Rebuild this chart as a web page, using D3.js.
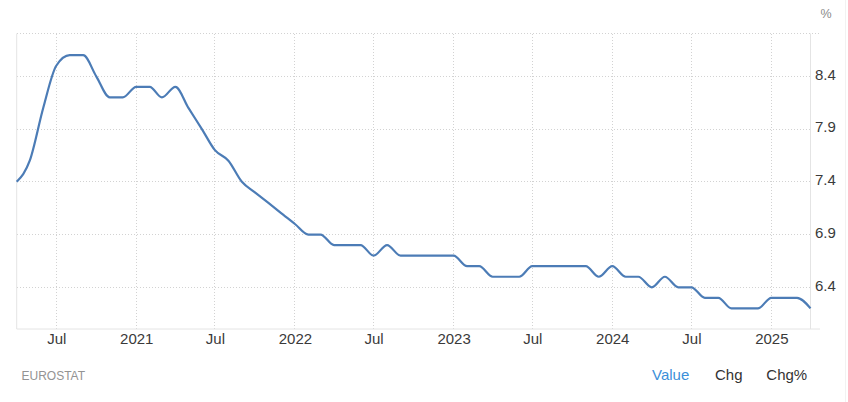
<!DOCTYPE html>
<html><head><meta charset="utf-8">
<script src="https://cdn.jsdelivr.net/npm/d3@7/dist/d3.min.js"></script>
<style>
html,body{margin:0;padding:0;background:#fff}
svg{display:block}
text{font-family:"Liberation Sans",Arial,sans-serif}
</style></head><body><svg id="c" width="848" height="402"></svg>
<script>
const startYear = 2020, startMonth = 3;
const values = [7.4,7.6,8.1,8.5,8.6,8.6,8.4,8.2,8.2,
  8.3,8.3,8.2,8.3,8.1,7.9,7.7,7.6,7.4,7.3,7.2,7.1,
  7.0,6.9,6.9,6.8,6.8,6.8,6.7,6.8,6.7,6.7,6.7,6.7,
  6.7,6.6,6.6,6.5,6.5,6.5,6.6,6.6,6.6,6.6,6.6,6.5,
  6.6,6.5,6.5,6.4,6.5,6.4,6.4,6.3,6.3,6.2,6.2,6.2,
  6.3,6.3,6.3,6.2];
const yTicks = [6.4,6.9,7.4,7.9,8.4];
const xTickDates = ["2020-07-01","2021-01-01","2021-07-01","2022-01-01","2022-07-01","2023-01-01","2023-07-01","2024-01-01","2024-07-01","2025-01-01"];
const xTickLabels = ["Jul","2021","Jul","2022","Jul","2023","Jul","2024","Jul","2025"];
const sourceLabel = "EUROSTAT";
const unitLabel = "%";
const tabs = ["Value","Chg","Chg%"];

const L=16.7,R=810.5,T=33.5,B=329;
const svg=d3.select("#c");
const dates=values.map((v,i)=>new Date(Date.UTC(startYear,startMonth+i,1)));
const x=d3.scaleUtc().domain([dates[0],dates[dates.length-1]]).range([L,R]);
const y=d3.scaleLinear().domain([6.4,8.4]).range([287.3,76.3]);
const xT=xTickDates.map(d=>new Date(d+"T00:00:00Z"));

const grid={stroke:"#d2d2d2","stroke-width":1,"stroke-dasharray":"1 2","shape-rendering":"crispEdges"};
const applyGrid=s=>{Object.entries(grid).forEach(([k,v])=>s.attr(k,v));return s;};
applyGrid(svg.append("g").selectAll("line").data(xT).join("line")
  .attr("x1",d=>x(d)).attr("x2",d=>x(d)).attr("y1",T).attr("y2",B));
applyGrid(svg.append("g").selectAll("line").data(yTicks).join("line")
  .attr("x1",L).attr("x2",R).attr("y1",d=>y(d)).attr("y2",d=>y(d)));
applyGrid(svg.append("line").attr("x1",L).attr("x2",820).attr("y1",T).attr("y2",T));

// frame
const frame="#e4e4e4";
svg.append("line").attr("x1",L).attr("x2",L).attr("y1",T).attr("y2",B).attr("stroke",frame);
svg.append("line").attr("x1",R).attr("x2",R).attr("y1",T).attr("y2",B).attr("stroke",frame);
svg.append("line").attr("x1",L).attr("x2",820).attr("y1",B).attr("y2",B).attr("stroke",frame);
svg.append("line").attr("x1",845.5).attr("x2",845.5).attr("y1",0).attr("y2",402).attr("stroke","#f2f2f2");

// axes
const xAxis=d3.axisBottom(x).tickValues(xT).tickFormat((d,i)=>xTickLabels[i]).tickSize(0).tickPadding(0);
const gx=svg.append("g").attr("transform",`translate(0,${B})`).call(xAxis);
gx.select(".domain").remove();
gx.selectAll("text").attr("y",15).attr("dy","0").attr("font-size",15).attr("fill","#3a3a3a");
const yAxis=d3.axisRight(y).tickValues(yTicks).tickFormat(d3.format(".1f")).tickSize(0).tickPadding(0);
const gy=svg.append("g").attr("transform",`translate(815,0)`).call(yAxis);
gy.select(".domain").remove();
gy.selectAll("text").attr("x",0).attr("dy","0").attr("y",2.7).attr("font-size",15).attr("fill","#3a3a3a");

// line
const line=d3.line().x((d,i)=>x(dates[i])).y(d=>y(d)).curve(d3.curveMonotoneX);
svg.append("path").datum(values).attr("d",line).attr("fill","none").attr("stroke","#4c7cb6").attr("stroke-width",2.2).attr("stroke-linejoin","round");

// labels
svg.append("text").attr("x",826).attr("y",17.7).attr("text-anchor","middle").attr("font-size",12.5).attr("fill","#8a8a8a").text(unitLabel);
svg.append("text").attr("x",21.5).attr("y",380).attr("font-size",12).attr("fill","#939393").text(sourceLabel);
const tabX=[652,715,766.3], tabC=["#3b8fd9","#333","#333"];
svg.append("g").selectAll("text").data(tabs).join("text")
  .attr("x",(d,i)=>tabX[i]).attr("y",380).attr("font-size",15).attr("fill",(d,i)=>tabC[i]).text(d=>d);
</script></body></html>
